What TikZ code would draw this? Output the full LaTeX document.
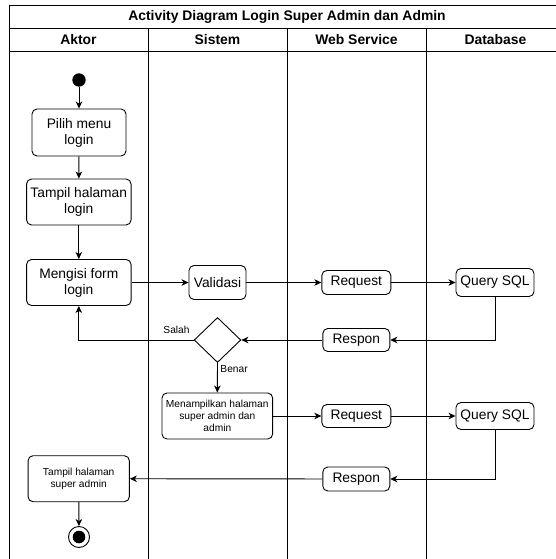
\documentclass[tikz,border=0pt]{standalone}
\usepackage{fontspec}
\setmainfont{Liberation Sans}
\usetikzlibrary{arrows.meta,shapes.geometric}
\begin{document}
\begin{tikzpicture}[x=1pt,y=-1pt,
  line width=0.9pt,
  act/.style={draw,rounded corners=5pt,align=center,inner sep=0pt,font=\fontsize{13.8}{16}\selectfont},
  smallact/.style={draw,rounded corners=5pt,align=center,inner sep=0pt,font=\fontsize{10.2}{12.2}\selectfont},
  lbl/.style={font=\fontsize{10.2}{12}\selectfont,inner sep=0pt},
  hdr/.style={font=\bfseries\fontsize{13.9}{16}\selectfont,inner sep=0pt},
  arr/.style={-{Stealth[length=7pt,width=6.5pt,inset=2pt]}}
]
\useasboundingbox (0,0) rectangle (556,559);
\fill[white] (0,0) rectangle (556,559);
\begin{scope}
\clip (0,0) rectangle (556,559);
% pool frame
\draw (9,5) -- (565,5);
\draw (9,28) -- (565,28);
\draw (9,51) -- (565,51);
\draw (9,5) -- (9,570);
\draw (148,28) -- (148,570);
\draw (287,28) -- (287,570);
\draw (426,28) -- (426,570);
\draw (565,5) -- (565,570);
\end{scope}
\node[hdr] (title) at (287,16.5) {Activity Diagram Login Super Admin dan Admin};
\node[hdr] (h1) at (78.5,39.5) {Aktor};
\node[hdr] (h2) at (217.5,39.5) {Sistem};
\node[hdr] (h3) at (356.5,39.5) {Web Service};
\node[hdr] (h4) at (495.5,39.5) {Database};

% nodes
\node[circle,fill=black,minimum size=13.4pt,inner sep=0pt] (start) at (79,80) {};
\node[act,minimum width=94pt,minimum height=47pt] (pilih) at (79,132.5) {Pilih menu\\login};
\node[act,minimum width=104.5pt,minimum height=46pt] (tampil) at (78.8,202) {Tampil halaman\\login};
\node[act,minimum width=104.5pt,minimum height=46pt] (mengisi) at (78.8,282.5) {Mengisi form\\login};
\node[act,minimum width=57pt,minimum height=34pt] (validasi) at (217.5,282.5) {Validasi};
\node[act,minimum width=69pt,minimum height=24pt] (req1) at (356.3,282.5) {Request};
\node[act,minimum width=78pt,minimum height=28pt] (q1) at (495,282.5) {Query SQL};
\node[act,minimum width=67pt,minimum height=23pt] (resp1) at (356.3,340) {Respon};
\node[draw,diamond,minimum width=46.7pt,minimum height=45pt,inner sep=0pt] (dia) at (217.5,340) {};
\node[smallact,minimum width=110.7pt,minimum height=46pt] (menam) at (217.3,416) {Menampilkan halaman\\super admin dan\\admin};
\node[act,minimum width=69pt,minimum height=23pt] (req2) at (356.3,416) {Request};
\node[act,minimum width=78pt,minimum height=27pt] (q2) at (495,416) {Query SQL};
\node[act,minimum width=67pt,minimum height=24pt] (resp2) at (356.3,479) {Respon};
\node[smallact,minimum width=101.3pt,minimum height=46pt] (tsa) at (78.7,478.7) {Tampil halaman\\super admin};
\node[circle,draw,minimum size=21pt,inner sep=0pt] (end) at (79,537) {};
\node[circle,fill=black,minimum size=12.6pt,inner sep=0pt] (endin) at (79,537) {};

\node[lbl,anchor=south east] (salah) at (190,334) {Salah};
\node[lbl,anchor=west] (benar) at (220,369) {Benar};

% connectors
\draw[arr] (start) -- (pilih);
\draw[arr] (pilih) -- (tampil);
\draw[arr] (tampil) -- (mengisi);
\draw[arr] (mengisi) -- (validasi);
\draw[arr] (validasi) -- (req1);
\draw[arr] (req1) -- (q1);
\draw[arr] (q1.south) |- (resp1.east);
\draw[arr] (resp1) -- (dia);
\draw[arr] (dia.west) -| (mengisi.south);
\draw[arr] (dia.south) -- (menam.north);
\draw[arr] (menam) -- (req2);
\draw[arr] (req2) -- (q2);
\draw[arr] (q2.south) |- (resp2.east);
\draw[arr] (resp2) -- (tsa);
\draw[arr] (tsa) -- (end);
\end{tikzpicture}
\end{document}
